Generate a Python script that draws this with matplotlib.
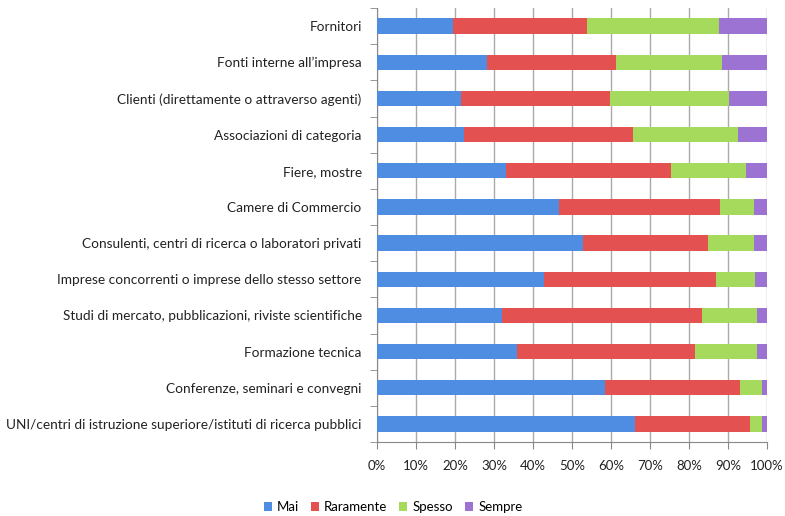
import matplotlib
matplotlib.use("Agg")
import matplotlib.pyplot as plt
import numpy as np

plt.rcParams['font.family'] = ['Lato', 'DejaVu Sans']

categories = [
    "Fornitori",
    "Fonti interne all\u2019impresa",
    "Clienti (direttamente o attraverso agenti)",
    "Associazioni di categoria",
    "Fiere, mostre",
    "Camere di Commercio",
    "Consulenti, centri di ricerca o laboratori privati",
    "Imprese concorrenti o imprese dello stesso settore",
    "Studi di mercato, pubblicazioni, riviste scientifiche",
    "Formazione tecnica",
    "Conferenze, seminari e convegni",
    "UNI/centri di istruzione superiore/istituti di ricerca pubblici",
]
mai       = [19.5, 28.2, 21.5, 22.3, 33.2, 46.6, 52.8, 42.7, 32.1, 35.8, 58.5, 66.1]
raramente = [34.3, 33.2, 38.2, 43.3, 42.3, 41.4, 32.1, 44.1, 51.2, 45.7, 34.6, 29.5]
spesso    = [33.8, 27.1, 30.5, 26.9, 19.0, 8.6, 11.7, 10.1, 14.2, 15.9, 5.6, 3.1]
sempre    = [12.4, 11.5, 9.8, 7.5, 5.5, 3.4, 3.4, 3.1, 2.5, 2.6, 1.3, 1.3]
series_names = ["Mai", "Raramente", "Spesso", "Sempre"]
colors = ["#4F8DE3", "#E35250", "#A6DA5C", "#9C73D2"]

fig = plt.figure(figsize=(7.85, 5.16), dpi=100)
ax = fig.add_axes([377/785, 1-442/516, 390/785, 434/516])

data = np.array([mai, raramente, spesso, sempre])
data = data / data.sum(axis=0) * 100
y = np.arange(len(categories))
left = np.zeros(len(categories))
for vals, name, col in zip(data, series_names, colors):
    ax.barh(y, vals / 100, left=left / 100, height=0.42, color=col, label=name, zorder=3)
    left += vals

ax.set_ylim(len(categories) - 0.5, -0.5)
ax.set_xlim(0, 1)
ax.set_yticks(y)
ax.set_yticklabels(categories, fontsize=9.8, color='#222222')
ax.set_yticks(np.arange(-0.5, len(categories)), minor=True)
ax.tick_params(axis='y', which='major', length=0, pad=11)
ax.tick_params(axis='y', which='minor', length=5, color='#888888', direction='out')
xt = np.linspace(0, 1, 11)
ax.set_xticks(xt)
ax.set_xticklabels([f"{int(round(v*100))}%" for v in xt], fontsize=9.5, color='#222222')
ax.tick_params(axis='x', length=5, color='#888888', direction='out', pad=8)
ax.grid(axis='x', color='#AAAAAA', linewidth=1, zorder=0)
for s in ['top', 'right']:
    ax.spines[s].set_visible(False)
for s in ['left', 'bottom']:
    ax.spines[s].set_color('#888888')

leg = fig.legend(loc='center', bbox_to_anchor=(393/785, 1-507/516), ncol=4, frameon=False,
                 fontsize=9.5, handlelength=0.6, handleheight=0.6, handletextpad=0.4, columnspacing=0.9)

fig.savefig("out.png", dpi=100)
